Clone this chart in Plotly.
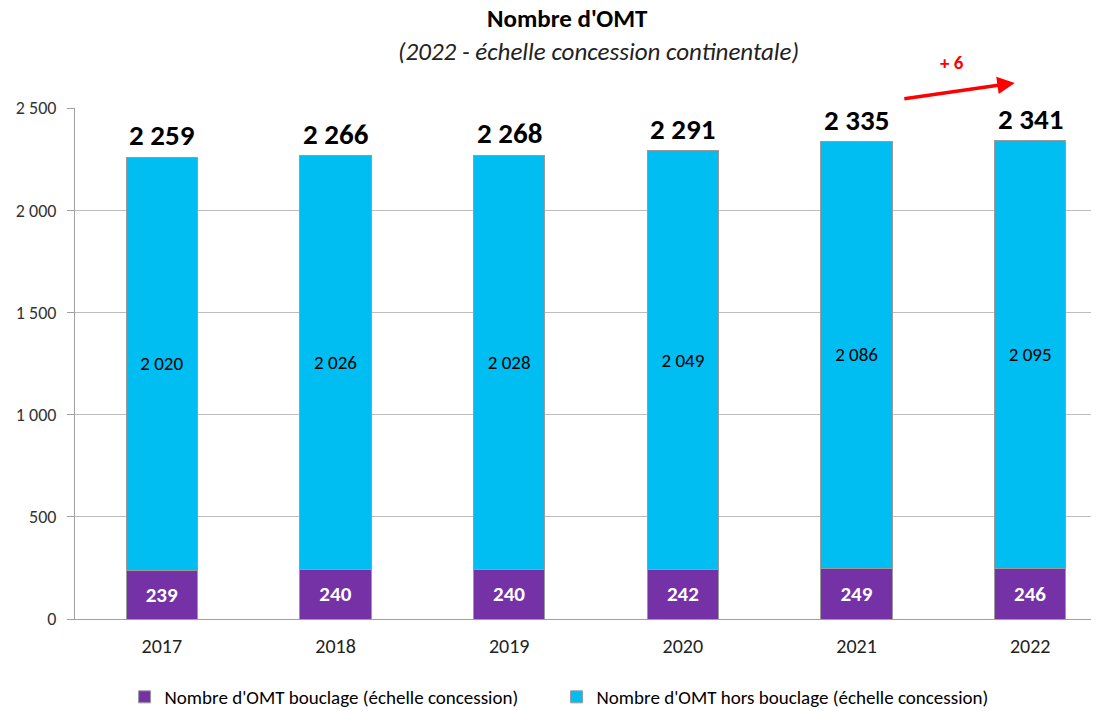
import plotly.graph_objects as go

# ----- DONNÉES -----
annees = ["2017", "2018", "2019", "2020", "2021", "2022"]
bouclage = [239, 240, 240, 242, 249, 246]
hors_bouclage = [2020, 2026, 2028, 2049, 2086, 2095]
totaux = [2259, 2266, 2268, 2291, 2335, 2341]
y_ticks = [0, 500, 1000, 1500, 2000, 2500]
evolution = "+ 6"

police = "Carlito, Calibri, 'Liberation Sans Narrow', sans-serif"

def fmt(v):
    return f"{v:,}".replace(",", " ")

fig = go.Figure()

fig.add_trace(go.Bar(
    x=annees, y=bouclage,
    name="Nombre d'OMT bouclage (échelle concession)",
    marker=dict(color="#7432A6", line=dict(color="#9A9A9A", width=1)),
    text=[fmt(v) for v in bouclage], textposition="inside",
    insidetextanchor="middle",
    textfont=dict(color="white", size=21, family=police, weight="bold"),
    width=0.41,
))
fig.add_trace(go.Bar(
    x=annees, y=hors_bouclage,
    name="Nombre d'OMT hors bouclage (échelle concession)",
    marker=dict(color="#00BDF2", line=dict(color="#9A9A9A", width=1)),
    text=[fmt(v) for v in hors_bouclage], textposition="inside",
    insidetextanchor="middle",
    textfont=dict(color="black", size=19, family=police),
    width=0.41,
))

# totaux au-dessus des barres (x = index de catégorie)
for i, total in enumerate(totaux):
    fig.add_annotation(x=i, y=total, xref="x", yref="y", text=f"<b>{fmt(total)}</b>",
                       showarrow=False, xanchor="center", yanchor="bottom", yshift=2,
                       font=dict(color="black", size=29, family=police))

# flèche d'évolution
fig.add_annotation(x=0.925, y=1.049, xref="paper", yref="paper",
                   ax=-112, ay=16, text="", showarrow=True,
                   arrowhead=2, arrowsize=1, arrowwidth=3.5, arrowcolor="#FF0000")
fig.add_annotation(x=0.863, y=1.090, xref="paper", yref="paper", text=f"<b>{evolution}</b>",
                   showarrow=False, xanchor="center", yanchor="middle",
                   font=dict(color="#FF0000", size=19, family=police))

# titre et sous-titre
fig.add_annotation(x=0.485, y=1.176, xref="paper", yref="paper",
                   text="<b>Nombre d'OMT</b>",
                   showarrow=False, xanchor="center", yanchor="middle",
                   font=dict(size=25, color="black", family=police))
fig.add_annotation(x=0.515, y=1.110, xref="paper", yref="paper",
                   text="<i>(2022 - échelle concession continentale)</i>",
                   showarrow=False, xanchor="center", yanchor="middle",
                   font=dict(size=25, color="#222222", family=police))

fig.update_layout(
    barmode="stack",
    width=1099, height=711,
    margin=dict(l=75, r=8, t=108, b=92),
    plot_bgcolor="white", paper_bgcolor="white",
    separators=", ",
    font=dict(family=police, color="#333333"),
    xaxis=dict(
        type="category", range=[-0.5, 5.35],
        showline=True, linecolor="#A0A0A0", linewidth=1,
        ticks="", tickfont=dict(size=20, color="#222222"),
        ticklabelstandoff=9,
        showgrid=False,
    ),
    yaxis=dict(
        range=[0, 2500], tickvals=y_ticks, tickformat=",",
        showgrid=True, gridcolor="#BDBDBD", gridwidth=1,
        showline=True, linecolor="#A0A0A0", linewidth=1,
        ticks="outside", ticklen=7, tickcolor="#A0A0A0",
        ticklabelstandoff=7,
        tickfont=dict(size=18, color="#333333"),
        zeroline=False,
    ),
    legend=dict(
        orientation="h", x=0.474, xanchor="center",
        yref="container", y=14 / 711, yanchor="middle",
        font=dict(size=19, color="black"), traceorder="normal",
        itemwidth=30, entrywidth=387,
    ),
)

fig.write_html("out.html", config={"displayModeBar": False},
               post_script="document.body.style.margin='0';")
